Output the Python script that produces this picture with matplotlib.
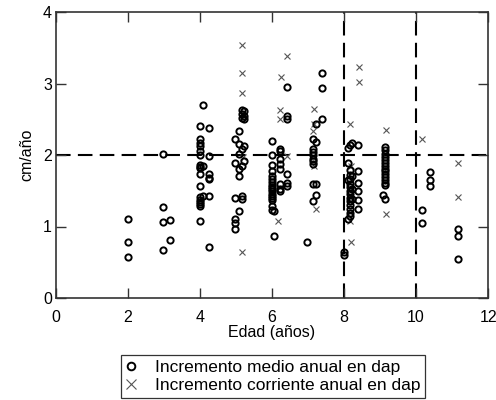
import matplotlib
matplotlib.use("Agg")
import matplotlib.pyplot as plt
from matplotlib.lines import Line2D

plt.rcParams['font.family'] = ['Liberation Sans', 'DejaVu Sans']

# Incremento medio anual en dap (cm/año), grouped by age (años)
ima_groups = {
    2.00: [1.10, 0.78, 0.57],
    2.98: [2.01, 1.27, 1.06, 0.67],
    3.16: [1.09, 0.81],
    4.00: [2.41, 2.23, 2.17, 2.12, 2.06, 2.00, 1.86, 1.83, 1.82, 1.74,
           1.57, 1.41, 1.37, 1.34, 1.32, 1.29, 1.07],
    4.07: [2.70, 1.85, 1.42],
    4.24: [2.38, 1.99, 1.73, 1.68, 1.66, 1.42, 0.71],
    4.97: [2.22, 1.89, 1.40, 1.11, 1.05, 0.97],
    5.07: [2.34, 2.15, 2.02, 1.80, 1.70, 1.21],
    5.16: [2.63, 2.58, 2.52, 2.09, 1.84, 1.42, 1.38],
    5.22: [2.62, 2.55, 2.51, 2.13, 1.91],
    6.00: [2.19, 2.00, 1.86, 1.77, 1.70, 1.66, 1.62, 1.58, 1.55, 1.52,
           1.49, 1.46, 1.43, 1.40, 1.37, 1.28, 1.23],
    6.06: [1.21, 0.87],
    6.22: [2.09, 2.05, 1.94, 1.88, 1.80, 1.60, 1.53, 1.49],
    6.41: [2.95, 2.54, 2.51, 1.74, 1.61, 1.56],
    6.96: [0.79],
    7.15: [2.23, 2.09, 2.04, 2.00, 1.95, 1.91, 1.88, 1.60, 1.35],
    7.22: [2.43, 2.18, 1.60, 1.44],
    7.38: [3.15, 2.94, 2.51],
    8.00: [0.65, 0.60],
    8.12: [2.10, 1.89, 1.65, 1.11],
    8.17: [2.14, 1.79, 1.72, 1.66, 1.60, 1.55, 1.50, 1.45, 1.40, 1.35,
           1.30, 1.24, 1.19, 1.14],
    8.22: [2.17, 1.70, 1.52, 1.38],
    8.39: [2.14, 1.78, 1.61, 1.49, 1.37, 1.25],
    9.08: [1.44],
    9.14: [2.11, 2.07, 2.01, 1.97, 1.93, 1.89, 1.85, 1.81, 1.77, 1.73,
           1.69, 1.65, 1.61, 1.58, 1.39],
    10.16: [1.23, 1.05],
    10.39: [1.76, 1.65, 1.57],
    11.16: [0.96, 0.87, 0.55],
}

# Incremento corriente anual en dap (cm/año)
ica_age = [5.16, 5.16, 5.16, 5.16, 5.20,
           6.16, 6.22, 6.22, 6.24, 6.41, 6.41,
           7.15, 7.17, 7.17, 7.17, 7.22,
           8.17, 8.17, 8.20, 8.20, 8.42, 8.42,
           9.16, 9.16, 10.16, 11.16, 11.16]
ica_val = [3.54, 3.15, 2.87, 0.65, 1.97,
           1.08, 2.63, 2.50, 3.09, 3.39, 1.98,
           2.33, 2.64, 2.44, 1.85, 1.25,
           2.43, 1.08, 1.85, 0.79, 3.23, 3.02,
           2.35, 1.18, 2.23, 1.89, 1.41]

ima_age = [a for a, vals in ima_groups.items() for _ in vals]
ima_val = [v for vals in ima_groups.values() for v in vals]

fig = plt.figure(figsize=(4.96, 4.0), dpi=100)
ax = fig.add_axes([0.113, 0.255, 0.871, 0.715])

dash = dict(color='black', lw=1.5, ls=(0, (7, 3.5)), zorder=1)
ax.axhline(2, **dash)
ax.axvline(8, **dash)
ax.axvline(10, **dash)

ax.plot(ica_age, ica_val, ls='none', marker='x', ms=4.2, mew=0.8,
        color='#555555', zorder=2)
ax.plot(ima_age, ima_val, ls='none', marker='o', ms=4.5, mew=1.4,
        mfc='none', mec='black', zorder=3)

ax.set_xlim(0, 12)
ax.set_ylim(0, 4)
ax.set_xticks(range(0, 13, 2))
ax.set_yticks(range(0, 5))
ax.tick_params(direction='in', length=7, width=1.0, top=True, right=True,
               labelsize=11.5, color='#333333')
ax.tick_params(axis='x', pad=9)
ax.tick_params(axis='y', pad=3)
for s in ax.spines.values():
    s.set_linewidth(1.2)
    s.set_color('#333333')

ax.set_xlabel('Edad (años)', fontsize=11.5, labelpad=0)
ax.set_ylabel('cm/año', fontsize=11.5, labelpad=6)

handles = [
    Line2D([], [], ls='none', marker='o', ms=5.5, mew=1.4, mfc='none', mec='black'),
    Line2D([], [], ls='none', marker='x', ms=6.5, mew=0.8, color='#555555'),
]
labels = ['Incremento medio anual en dap', 'Incremento corriente anual en dap']
leg = fig.legend(handles, labels, loc='upper center', bbox_to_anchor=(0.55, 0.112),
                 fontsize=12.5, frameon=True, fancybox=False, edgecolor='black',
                 handlelength=0.7, handletextpad=1.0, borderpad=0.25,
                 labelspacing=0.2, borderaxespad=0)
leg.get_frame().set_linewidth(0.9)

fig.savefig('out.png', dpi=100)
